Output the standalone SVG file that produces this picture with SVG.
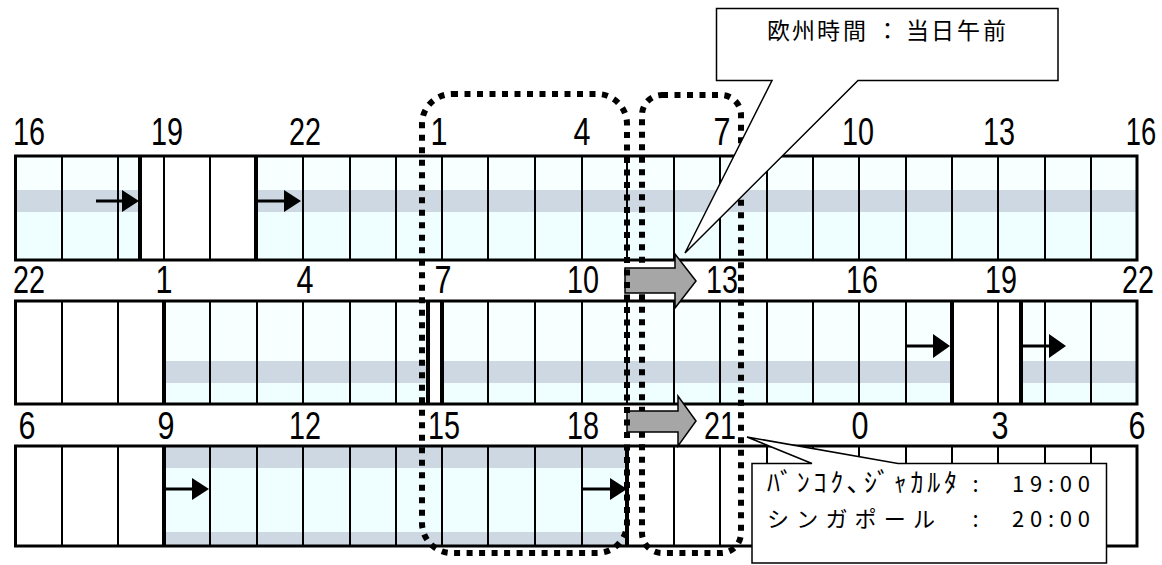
<svg xmlns="http://www.w3.org/2000/svg" width="1162" height="565" viewBox="0 0 1162 565">
<style>
.lbl{font-family:"Liberation Sans",Arial,sans-serif;font-size:38px;fill:#000}
.top{fill:#F7FFFF}
.band{fill:#CDD8E2}
.bot{fill:#EFFFFF}
.thin{stroke:#000;stroke-width:2;fill:none}
.thick{stroke:#000;stroke-width:4;fill:none}
.border{stroke:#000;stroke-width:3;fill:none}
.dot{fill:none;stroke:#000;stroke-width:6;stroke-dasharray:6 6.5}
.blk{stroke:#000;stroke-width:3;fill:none}
.head{fill:#000}
.big{fill:#A6A6A6;stroke:#000;stroke-width:1.5}
.call{fill:#fff;stroke:#000;stroke-width:1.5}
.jp{font-family:"Noto Sans CJK JP","Noto Sans CJK SC",sans-serif;font-size:23px;fill:#000}
.jp2{font-family:"Noto Sans CJK JP","Noto Sans CJK SC",sans-serif;font-size:22px;fill:#000}
.hk{font-size:26px}
</style>
<rect width="1162" height="565" fill="#fff"/>

<!-- Row 1 -->
<g id="row1">
<rect class="top" x="15.5" y="156" width="124.5" height="34"/>
<rect class="band" x="15.5" y="190" width="124.5" height="22"/>
<rect class="bot" x="15.5" y="212" width="124.5" height="48"/>
<rect class="top" x="256" y="156" width="881" height="34"/>
<rect class="band" x="256" y="190" width="881" height="22"/>
<rect class="bot" x="256" y="212" width="881" height="48"/>
<path class="thin" d="M62 156V260M118 156V260M164 156V260M210 156V260M303 156V260M350 156V260M396 156V260M442 156V260M488 156V260M535 156V260M582 156V260M627 156V260M674 156V260M720 156V260M767 156V260M813 156V260M859 156V260M906 156V260M952 156V260M998 156V260M1045 156V260M1091 156V260"/>
<path class="thick" d="M140 156V260M256 156V260"/>
<rect class="border" x="15.5" y="156" width="1121.5" height="104"/>
<g class="lbl">
<text x="29" y="145" text-anchor="middle" textLength="32" lengthAdjust="spacingAndGlyphs">16</text>
<text x="167" y="145" text-anchor="middle" textLength="32" lengthAdjust="spacingAndGlyphs">19</text>
<text x="305" y="145" text-anchor="middle" textLength="32" lengthAdjust="spacingAndGlyphs">22</text>
<text x="439" y="145" text-anchor="middle" textLength="17" lengthAdjust="spacingAndGlyphs">1</text>
<text x="582" y="145" text-anchor="middle" textLength="17" lengthAdjust="spacingAndGlyphs">4</text>
<text x="722" y="145" text-anchor="middle" textLength="17" lengthAdjust="spacingAndGlyphs">7</text>
<text x="858" y="145" text-anchor="middle" textLength="32" lengthAdjust="spacingAndGlyphs">10</text>
<text x="999" y="145" text-anchor="middle" textLength="32" lengthAdjust="spacingAndGlyphs">13</text>
<text transform="translate(1141 145) scale(0.72 1)" text-anchor="middle">16</text>
</g>
</g>

<!-- Row 2 -->
<g id="row2">
<rect class="top" x="164" y="301" width="264" height="60"/>
<rect class="band" x="164" y="361" width="264" height="22"/>
<rect class="bot" x="164" y="383" width="264" height="21"/>
<rect class="top" x="442" y="301" width="510" height="60"/>
<rect class="band" x="442" y="361" width="510" height="22"/>
<rect class="bot" x="442" y="383" width="510" height="21"/>
<rect class="top" x="1021" y="301" width="116" height="60"/>
<rect class="band" x="1021" y="361" width="116" height="22"/>
<rect class="bot" x="1021" y="383" width="116" height="21"/>
<path class="thin" d="M62 301V404M118 301V404M210 301V404M257 301V404M303 301V404M350 301V404M396 301V404M488 301V404M535 301V404M582 301V404M627 301V404M674 301V404M720 301V404M767 301V404M813 301V404M859 301V404M906 301V404M998 301V404M1045 301V404M1091 301V404"/>
<path class="thick" d="M164 301V404M428 301V404M442 301V404M952 301V404M1021 301V404"/>
<rect class="border" x="15.5" y="301" width="1121.5" height="103"/>
<g class="lbl">
<text x="29" y="293" text-anchor="middle" textLength="32" lengthAdjust="spacingAndGlyphs">22</text>
<text x="164" y="293" text-anchor="middle" textLength="17" lengthAdjust="spacingAndGlyphs">1</text>
<text x="305" y="293" text-anchor="middle" textLength="17" lengthAdjust="spacingAndGlyphs">4</text>
<text x="443" y="293" text-anchor="middle" textLength="17" lengthAdjust="spacingAndGlyphs">7</text>
<text x="583" y="293" text-anchor="middle" textLength="32" lengthAdjust="spacingAndGlyphs">10</text>
<text x="722" y="293" text-anchor="middle" textLength="32" lengthAdjust="spacingAndGlyphs">13</text>
<text x="862" y="293" text-anchor="middle" textLength="32" lengthAdjust="spacingAndGlyphs">16</text>
<text x="1001" y="293" text-anchor="middle" textLength="32" lengthAdjust="spacingAndGlyphs">19</text>
<text x="1138" y="293" text-anchor="middle" textLength="32" lengthAdjust="spacingAndGlyphs">22</text>
</g>
</g>

<!-- Row 3 -->
<g id="row3">
<rect class="band" x="164" y="446" width="463" height="22"/>
<rect class="bot" x="164" y="468" width="463" height="64"/>
<rect class="band" x="164" y="532" width="463" height="14"/>
<path class="thin" d="M62 446V546M118 446V546M210 446V546M257 446V546M303 446V546M350 446V546M396 446V546M442 446V546M488 446V546M535 446V546M582 446V546M674 446V546M720 446V546M767 446V546M813 446V546M859 446V546M906 446V546M952 446V546M998 446V546M1045 446V546M1091 446V546"/>
<path class="thick" d="M164 446V546M627 446V546"/>
<rect class="border" x="15.5" y="446" width="1121.5" height="100"/>
<g class="lbl">
<text x="27" y="439" text-anchor="middle" textLength="17" lengthAdjust="spacingAndGlyphs">6</text>
<text x="166" y="439" text-anchor="middle" textLength="17" lengthAdjust="spacingAndGlyphs">9</text>
<text x="305" y="439" text-anchor="middle" textLength="32" lengthAdjust="spacingAndGlyphs">12</text>
<text x="444" y="439" text-anchor="middle" textLength="32" lengthAdjust="spacingAndGlyphs">15</text>
<text x="583" y="439" text-anchor="middle" textLength="32" lengthAdjust="spacingAndGlyphs">18</text>
<text x="720" y="439" text-anchor="middle" textLength="32" lengthAdjust="spacingAndGlyphs">21</text>
<text x="860" y="439" text-anchor="middle" textLength="17" lengthAdjust="spacingAndGlyphs">0</text>
<text x="1000" y="439" text-anchor="middle" textLength="17" lengthAdjust="spacingAndGlyphs">3</text>
<text x="1137" y="439" text-anchor="middle" textLength="17" lengthAdjust="spacingAndGlyphs">6</text>
</g>
</g>

<!-- Highlight frames -->
<g id="frame-right">
<rect class="dot" x="642" y="95" width="99" height="458" rx="20" ry="20"/>
</g>

<!-- Connectors -->
<g id="connectors">
<path class="blk" d="M96 201H124M256 201H286M905 346H935M1021 346H1051M164 489H194M582 489H612"/>
<polygon class="head" points="122,190 139,201 122,212"/>
<polygon class="head" points="284,190 301,201 284,212"/>
<polygon class="head" points="933,334 950,346 933,358"/>
<polygon class="head" points="1049,334 1066,346 1049,358"/>
<polygon class="head" points="192,478 209,489 192,500"/>
<polygon class="head" points="610,478 627,489 610,500"/>
<path class="big" d="M625 268H675V254L696 281L675 308V293H625Z"/>
<path class="big" d="M627 411H678V396L696 421L678 446V432H627Z"/>
</g>

<g id="frame-left">
<rect class="dot" x="422" y="94" width="205" height="459" rx="30" ry="30"/>
</g>

<!-- Callouts -->
<g id="callout-europe">
<path class="call" d="M716.5 8.5H1058V80.5H858L685 253L772 80.5H716.5Z"/>
<text class="jp" y="39" x="767 792 817 843 876 906 931 957 983">欧州時間：当日午前</text>
</g>
<g id="callout-asia">
<path class="call" d="M752 463.5H812L747 437L898 463.5H1106.5V563H752Z"/>
<text class="jp2" y="492"><tspan class="hk" x="767" textLength="190" lengthAdjust="spacing">ﾊﾞﾝｺｸ､ｼﾞｬｶﾙﾀ</tspan> <tspan x="978" text-anchor="middle">:</tspan> <tspan x="1012" textLength="78" lengthAdjust="spacing">19:00</tspan></text>
<text class="jp2" y="527"><tspan x="767" textLength="168" lengthAdjust="spacing">シンガポール</tspan> <tspan x="978" text-anchor="middle">:</tspan> <tspan x="1012" textLength="78" lengthAdjust="spacing">20:00</tspan></text>
</g>
</svg>
